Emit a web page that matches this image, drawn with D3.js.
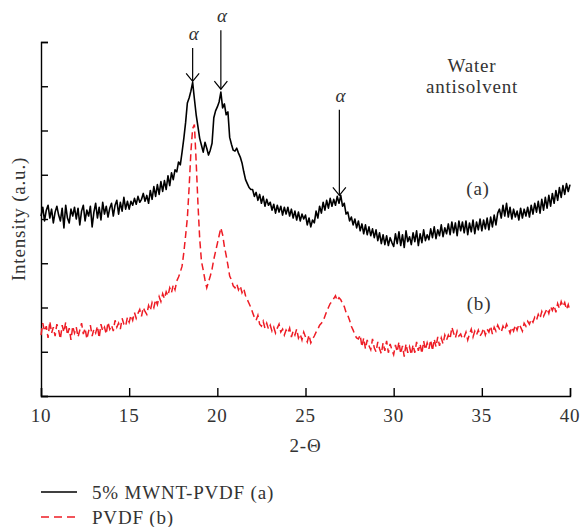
<!DOCTYPE html>
<html>
<head>
<meta charset="utf-8">
<script src="https://cdnjs.cloudflare.com/ajax/libs/d3/7.8.5/d3.min.js"></script>
<style>
  body { margin: 0; background: #fff; }
  text { font-family: "Liberation Serif", "Times New Roman", serif; fill: #333; letter-spacing: 0.8px; }
</style>
</head>
<body>
<div id="chart"></div>
<script>
// 2-theta grid, 10 to 40 in steps of 0.1
var twoTheta = d3.range(0, 301).map(function(i) { return 10 + i / 10; });

// 5% MWNT-PVDF (a), one row per degree
var mwntPvdf = [
  183,192,178,189,194,181,190,176,187,193,
  184,178,191,171,194,181,176,190,183,192,
  180,191,174,188,194,178,189,183,193,172,
  187,196,181,192,179,197,185,193,182,191,
  196,183,194,199,185,197,188,202,190,198,
  190,198,194,201,195,203,197,200,206,198,
  204,196,209,200,213,203,215,205,218,208,
  219,210,224,214,227,220,230,228,238,235,
  248,262,278,298,303,310,319,302,286,274,
  262,255,248,258,252,245,250,257,283,290,
  294,299,309,293,297,286,289,263,256,250,
  249,252,247,243,237,228,220,216,212,210,
  210,203,207,199,205,196,203,193,200,194,
  197,189,195,186,194,187,193,184,192,185,
  192,183,190,181,188,179,187,178,185,180,
  184,174,181,172,179,176,188,181,193,186,
  197,189,199,191,201,193,200,194,203,196,
  204,193,196,185,187,178,182,174,180,171,
  178,168,175,165,174,164,172,163,170,161,
  169,158,166,155,164,154,163,153,161,156,
  152,165,155,167,153,164,151,168,157,162,
  154,166,157,168,153,165,156,169,158,164,
  159,170,161,172,160,169,163,174,162,171,
  165,175,164,177,166,176,163,178,168,177,
  166,178,164,176,167,179,165,177,169,180,
  168,179,170,181,169,182,172,184,174,186,
  190,181,194,183,196,182,192,180,190,182,
  188,179,191,181,190,183,192,182,194,185,
  196,187,198,186,200,189,202,191,204,193,
  206,196,209,199,212,202,214,205,216,208,
  215
];

// PVDF (b)
var pvdf = [
  62,74,66,71,59,76,64,70,61,73,
  67,58,72,65,75,62,69,57,71,64,
  70,60,67,74,63,69,58,66,72,61,
  68,64,71,59,73,66,70,63,75,68,
  72,66,77,70,74,68,79,73,71,80,
  75,82,77,85,79,84,88,81,90,86,
  83,92,87,95,90,98,93,101,96,104,
  99,106,102,110,105,113,108,117,121,126,
  132,146,163,181,212,248,272,276,238,196,
  160,137,128,118,110,116,122,129,139,147,
  155,163,171,164,152,143,133,122,118,112,
  110,114,108,112,105,109,102,98,94,90,
  85,80,77,82,73,71,76,69,74,68,
  72,66,70,64,69,73,65,68,62,67,
  64,69,60,66,62,68,59,63,57,65,
  60,55,62,54,58,61,65,68,72,74,
  76,81,86,90,94,96,99,102,97,100,
  98,94,91,85,82,77,71,67,62,59,
  58,62,50,59,48,57,51,47,58,49,
  45,55,48,43,54,46,56,44,53,47,
  42,52,45,55,43,51,40,53,44,50,
  42,52,44,55,46,53,43,56,47,54,
  48,57,46,58,50,60,51,59,53,62,
  57,62,58,70,64,59,66,61,63,58,
  60,65,57,63,68,60,66,62,67,61,
  64,69,62,68,65,71,63,70,66,72,
  68,65,71,67,73,69,64,70,66,72,
  67,73,70,66,74,71,76,73,78,75,
  80,77,83,79,86,81,85,89,84,91,
  87,92,85,94,89,96,91,95,88,93,
  86
];

var xTicks = [10, 15, 20, 25, 30, 35, 40];
var yTicks = [0, 45, 90, 135, 180, 225, 270, 315, 360];

// alpha peak arrows: position, tip and top (data units)
var peakPos = [18.6, 20.2, 26.92];
var peakTip = [320, 312, 204];
var peakTop = [354, 372, 291];

var seriesNames = ["5% MWNT-PVDF (a)", "PVDF (b)"];

var width = 581, height = 527;
var margin = {left: 41, top: 42, right: 11, bottom: 131};

var svg = d3.select("#chart").append("svg")
    .attr("width", width)
    .attr("height", height);

var x = d3.scaleLinear().domain([10, 40]).range([margin.left, width - margin.right]);
var y = d3.scaleLinear().domain([0, 360]).range([height - margin.bottom, margin.top]);

// axes, ticks pointing inward
var xAxis = svg.append("g")
    .attr("transform", "translate(0," + y(0) + ")")
    .call(d3.axisTop(x).tickValues(xTicks).tickSizeOuter(0).tickSize(8).tickFormat(""));
var yAxis = svg.append("g")
    .attr("transform", "translate(" + x(10) + ",0)")
    .call(d3.axisRight(y).tickValues(yTicks).tickSizeOuter(0).tickSize(7).tickFormat(""));
svg.selectAll(".domain, .tick line").attr("stroke", "#000").attr("stroke-width", 1.4);

// x tick labels below axis
svg.selectAll(".xlab").data(xTicks).enter().append("text")
    .attr("class", "xlab")
    .attr("x", function(d) { return x(d); })
    .attr("y", y(0) + 25.5)
    .attr("text-anchor", "middle")
    .attr("font-size", 19)
    .text(function(d) { return d; });

svg.append("text")
    .attr("x", (x(10) + x(40)) / 2)
    .attr("y", 452)
    .attr("text-anchor", "middle")
    .attr("font-size", 19)
    .text("2-\u0398");

svg.append("text")
    .attr("transform", "translate(25," + ((y(0) + y(360)) / 2) + ") rotate(-90)")
    .attr("text-anchor", "middle")
    .attr("font-size", 19)
    .text("Intensity (a.u.)");

// the two patterns
var line = d3.line()
    .x(function(d, i) { return x(twoTheta[i]); })
    .y(function(d) { return y(d); });

svg.append("path")
    .datum(pvdf)
    .attr("fill", "none")
    .attr("stroke", "#ee1c25")
    .attr("stroke-width", 1.5)
    .attr("stroke-dasharray", "7,4")
    .attr("d", line);

svg.append("path")
    .datum(mwntPvdf)
    .attr("fill", "none")
    .attr("stroke", "#000")
    .attr("stroke-width", 1.6)
    .attr("stroke-linejoin", "round")
    .attr("d", line);

// alpha arrows
peakPos.forEach(function(p, i) {
  var ax = x(p), tip = y(peakTip[i]), top = y(peakTop[i]);
  svg.append("line")
      .attr("x1", ax).attr("x2", ax).attr("y1", top).attr("y2", tip)
      .attr("stroke", "#000").attr("stroke-width", 1.2);
  svg.append("path")
      .attr("d", "M" + (ax - 6.5) + "," + (tip - 8) + "L" + ax + "," + tip + "L" + (ax + 6.5) + "," + (tip - 8))
      .attr("fill", "none").attr("stroke", "#000").attr("stroke-width", 1.2);
  svg.append("text")
      .attr("x", ax + 1.5)
      .attr("y", top - 8)
      .attr("text-anchor", "middle")
      .attr("font-size", 19)
      .attr("font-style", "italic")
      .text("\u03b1");
});

// labels inside plot
svg.append("text").attr("x", 472).attr("y", 72).attr("text-anchor", "middle")
    .attr("font-size", 19).text("Water");
svg.append("text").attr("x", 472).attr("y", 93).attr("text-anchor", "middle")
    .attr("font-size", 19).text("antisolvent");
svg.append("text").attr("x", 478).attr("y", 195).attr("text-anchor", "middle")
    .attr("font-size", 19).text("(a)");
svg.append("text").attr("x", 479).attr("y", 310).attr("text-anchor", "middle")
    .attr("font-size", 19).text("(b)");

// legend
var legend = svg.append("g");
legend.append("line")
    .attr("x1", 41).attr("x2", 77).attr("y1", 492).attr("y2", 492)
    .attr("stroke", "#000").attr("stroke-width", 1.5);
legend.append("line")
    .attr("x1", 41).attr("x2", 77).attr("y1", 517).attr("y2", 517)
    .attr("stroke", "#ee1c25").attr("stroke-width", 1.5)
    .attr("stroke-dasharray", "8,5");
legend.selectAll("text").data(seriesNames).enter().append("text")
    .attr("x", 92)
    .attr("y", function(d, i) { return 499 + i * 24.5; })
    .attr("font-size", 19)
    .text(function(d) { return d; });
</script>
</body>
</html>
